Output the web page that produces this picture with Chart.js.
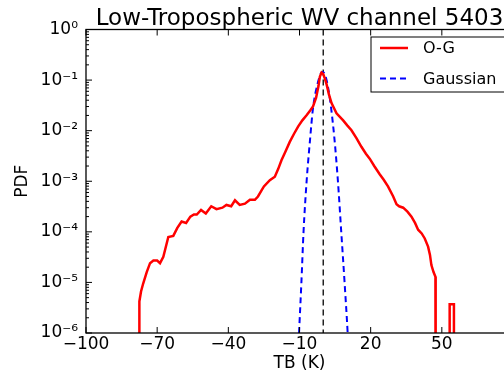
<!DOCTYPE html>
<html>
<head>
<meta charset="utf-8">
<script src="https://cdn.jsdelivr.net/npm/chart.js@4/dist/chart.umd.min.js"></script>
<style>
  html, body { margin: 0; padding: 0; overflow: hidden; background: #fff; }
</style>
</head>
<body>
<canvas id="pdf" width="540" height="375"></canvas>
<script>
// O-G histogram (TB in K, PDF value). 1e-9 = below the axis
const ogX = [-77.6, -77.5, -76.8, -75.9, -74.4, -73.0, -71.6, -70.0, -68.8, -67.4,
  -65.3, -63.2, -61.5, -59.7, -57.8, -56.0, -54.5, -53.3, -51.5, -49.5,
  -47.2, -45.0, -42.5, -40.8, -38.8, -37.2, -35.2, -33.0, -30.9, -28.8,
  -27.5, -26.0, -25.0, -22.5, -20.4, -19.0, -17.6, -16.0, -14.1, -12.3,
  -10.6, -8.8, -7.1, -5.5, -4.3, -3.0, -2.0, -1.4, -0.7, 0.0,
  0.7, 1.4, 2.4, 3.5, 5.6, 8.4, 10.2, 11.9, 14.0, 16.1,
  18.0, 19.6, 21.5, 23.8, 25.5, 27.3, 29.5, 30.9, 32.0, 33.7,
  35.5, 37.2, 38.7, 40.0, 41.5, 42.8, 44.2, 45.0, 45.6, 46.5, 47.3,
  47.4, 53.3, 53.3, 55.1, 55.1];
const ogPdf = [1e-9, 4.2e-6, 6.6e-6, 9.5e-6, 1.6e-5, 2.4e-5, 2.7e-5, 2.7e-5, 2.4e-5, 3.2e-5,
  7.9e-5, 8.3e-5, 1.2e-4, 1.6e-4, 1.5e-4, 2.0e-4, 2.2e-4, 2.2e-4, 2.7e-4, 2.3e-4,
  3.2e-4, 2.8e-4, 3.0e-4, 3.4e-4, 3.2e-4, 4.2e-4, 3.4e-4, 3.6e-4, 4.3e-4, 4.3e-4,
  5.0e-4, 6.6e-4, 7.9e-4, 1.05e-3, 1.23e-3, 1.74e-3, 2.6e-3, 3.8e-3, 6.0e-3, 8.7e-3,
  1.2e-2, 1.6e-2, 2.0e-2, 2.5e-2, 3.0e-2, 4.5e-2, 7.6e-2, 0.117, 0.141, 0.132,
  0.107, 0.083, 0.052, 0.035, 0.022, 0.016, 0.0126, 0.0102, 7.1e-3, 4.8e-3,
  3.5e-3, 2.8e-3, 2.0e-3, 1.38e-3, 1.07e-3, 7.9e-4, 5.0e-4, 3.5e-4, 3.2e-4, 3.0e-4,
  2.5e-4, 2.0e-4, 1.5e-4, 1.1e-4, 9.3e-5, 7.4e-5, 5.1e-5, 3.5e-5, 2.2e-5, 1.6e-5, 1.3e-5,
  1e-9, 1e-9, 3.7e-6, 3.7e-6, 1e-9];

// fitted gaussian (dashed blue)
const gaussX = [-10.6, -10.2, -9.2, -8.3, -7.0, -5.6, -4.3, -2.5, -1.0, -0.3,
  0.8, 2.6, 4.6, 6.2, 7.6, 9.0, 10.3, 10.7];
const gaussPdf = [4e-7, 1e-6, 1e-5, 1e-4, 1e-3, 6.3e-3, 2.8e-2, 8.0e-2, 0.135, 0.145,
  0.126, 0.05, 8e-3, 1e-3, 1e-4, 1e-5, 1e-6, 4e-7];

// zero line
const zeroX = [0, 0];
const zeroPdf = [1, 1e-6];

const xTicks = [-100, -70, -40, -10, 20, 50];
const yExps = [-6, -5, -4, -3, -2, -1, 0];

const SUP = { '-': '\u207B', '0': '\u2070', '1': '\u00B9', '2': '\u00B2', '3': '\u00B3',
  '4': '\u2074', '5': '\u2075', '6': '\u2076', '7': '\u2077', '8': '\u2078', '9': '\u2079' };
const sup = (n) => String(n).split('').map(c => SUP[c]).join('');

const pts = (xs, ys) => xs.map((x, i) => ({ x: x, y: ys[i] }));

const FONT = "'DejaVu Sans', sans-serif";
Chart.defaults.font.family = FONT;
Chart.defaults.color = '#000';

// box, inward ticks, title and legend like the matplotlib original
const decor = {
  id: 'decor',
  afterDatasetsDraw(chart) {
    const { ctx, chartArea: a, scales: { x, y } } = chart;
    ctx.save();
    ctx.strokeStyle = '#000';
    ctx.lineWidth = 1.3;
    ctx.setLineDash([]);
    ctx.strokeRect(a.left, a.top, a.right - a.left, a.bottom - a.top);
    ctx.lineWidth = 1;
    ctx.beginPath();
    xTicks.forEach(v => {
      const px = x.getPixelForValue(v);
      ctx.moveTo(px, a.bottom); ctx.lineTo(px, a.bottom - 6);
      ctx.moveTo(px, a.top); ctx.lineTo(px, a.top + 6);
    });
    yExps.forEach(e => {
      for (let m = 1; m <= 9; m++) {
        const v = m * Math.pow(10, e);
        if (v > y.max) break;
        const py = y.getPixelForValue(v);
        ctx.moveTo(a.left, py); ctx.lineTo(a.left + (m === 1 ? 6 : 3), py);
      }
    });
    ctx.stroke();

    // title
    ctx.fillStyle = '#000';
    ctx.font = '23px ' + FONT;
    ctx.textAlign = 'center';
    ctx.textBaseline = 'alphabetic';
    ctx.fillText('Low-Tropospheric WV channel 5403', (a.left + a.right) / 2, 25);

    // legend
    const lx = a.right - 142, ly = a.top + 7.5;
    ctx.fillStyle = '#fff';
    ctx.fillRect(lx, ly, 136, 55);
    ctx.lineWidth = 1;
    ctx.strokeRect(lx, ly, 136, 55);
    ctx.font = '16px ' + FONT;
    ctx.textAlign = 'left';
    ctx.textBaseline = 'middle';
    const items = chart.data.datasets.filter(d => d.label);
    items.forEach((d, i) => {
      const yy = ly + 11 + i * 30.5;
      ctx.strokeStyle = d.borderColor;
      ctx.lineWidth = d.borderWidth;
      ctx.setLineDash(d.borderDash || []);
      ctx.beginPath();
      ctx.moveTo(lx + 9, yy); ctx.lineTo(lx + 37, yy);
      ctx.stroke();
      ctx.fillStyle = '#000';
      ctx.fillText(d.label, lx + 52, yy + 1);
    });
    ctx.restore();
  }
};

new Chart(document.getElementById('pdf'), {
  type: 'line',
  data: {
    datasets: [
      {
        label: 'O-G',
        data: pts(ogX, ogPdf),
        borderColor: '#ff0000',
        borderWidth: 2.5,
        pointRadius: 0,
        tension: 0,
      },
      {
        label: 'Gaussian',
        data: pts(gaussX, gaussPdf),
        borderColor: '#0000ff',
        borderWidth: 2,
        borderDash: [6, 4],
        pointRadius: 0,
        cubicInterpolationMode: 'monotone',
      },
      {
        data: pts(zeroX, zeroPdf),
        borderColor: '#000',
        borderWidth: 1.3,
        borderDash: [6, 4],
        pointRadius: 0,
      },
    ],
  },
  options: {
    responsive: false,
    animation: false,
    layout: { padding: { top: 29.5, right: 27, left: 0, bottom: 0 } },
    plugins: {
      legend: { display: false },
      title: { display: false },
      tooltip: { enabled: false },
    },
    scales: {
      x: {
        type: 'linear',
        min: -100,
        max: 80,
        afterBuildTicks: (s) => { s.ticks = xTicks.map(v => ({ value: v })); },
        afterFit: (s) => { s.height = 42; },
        grid: { display: false, drawTicks: false },
        border: { display: false },
        ticks: {
          font: { size: 17 },
          padding: 1,
          maxRotation: 0,
          autoSkip: false,
          callback: (v) => (v < 0 ? '\u2212' + Math.abs(v) : String(v)),
        },
        title: { display: true, text: 'TB (K)', font: { size: 17 }, padding: { top: 0, bottom: 1 } },
      },
      y: {
        type: 'logarithmic',
        min: 1e-6,
        max: 1,
        afterBuildTicks: (s) => { s.ticks = yExps.map(e => ({ value: Math.pow(10, e) })); },
        afterFit: (s) => { s.width = 86; },
        grid: { display: false, drawTicks: false },
        border: { display: false },
        ticks: {
          font: { size: 17 },
          padding: 8,
          autoSkip: false,
          callback: (v) => '10' + sup(Math.round(Math.log10(v))),
        },
        title: { display: true, text: 'PDF', font: { size: 17 }, padding: { top: 12.8, bottom: 0 } },
      },
    },
  },
  plugins: [decor],
});
</script>
</body>
</html>
